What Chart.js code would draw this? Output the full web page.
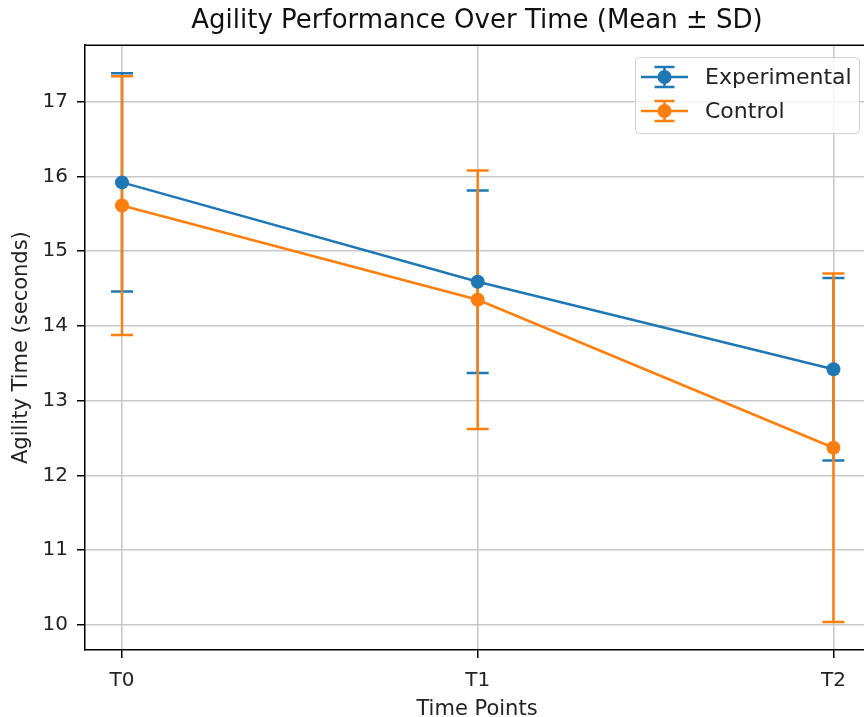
<!DOCTYPE html>
<html>
<head>
<meta charset="utf-8">
<script src="https://cdn.jsdelivr.net/npm/chart.js@4"></script>
<style>
  html, body { margin: 0; padding: 0; background: #fff; overflow: hidden; }
  #agilityChart { position: absolute; left: 0; top: 0; }
</style>
</head>
<body>
<canvas id="agilityChart" width="876" height="717"></canvas>
<script>
// Data
const timePoints = ["T0", "T1", "T2"];
const expMean = [15.92, 14.59, 13.42];
const expSD = [1.46, 1.22, 1.22];
const ctrlMean = [15.61, 14.35, 12.37];
const ctrlSD = [1.73, 1.73, 2.33];
const yTicks = [10, 11, 12, 13, 14, 15, 16, 17];

const BLUE = "#1f77b4";
const ORANGE = "#ff7f0e";
const FONT = "'DejaVu Sans', sans-serif";

const toPoints = (means) => means.map((v, i) => ({ x: i, y: v }));

// error bars, drawn through the chart scales
const errorBars = {
  id: "errorBars",
  beforeDatasetsDraw(chart) {
    const { ctx, scales: { x, y } } = chart;
    ctx.save();
    ctx.lineWidth = 2.5;
    chart.data.datasets.forEach((ds) => {
      ctx.strokeStyle = ds.borderColor;
      ds.sd.forEach((sd, i) => {
        const px = x.getPixelForValue(i);
        const top = y.getPixelForValue(ds.data[i].y + sd);
        const bot = y.getPixelForValue(ds.data[i].y - sd);
        ctx.beginPath();
        ctx.moveTo(px, top);
        ctx.lineTo(px, bot);
        ctx.moveTo(px - 11, top);
        ctx.lineTo(px + 11, top);
        ctx.moveTo(px - 11, bot);
        ctx.lineTo(px + 11, bot);
        ctx.stroke();
      });
    });
    ctx.restore();
  },
  afterDraw(chart) {
    const { ctx, chartArea: a } = chart;
    ctx.save();
    // top and right spines
    ctx.strokeStyle = "#000";
    ctx.lineWidth = 1.5;
    ctx.beginPath();
    ctx.moveTo(a.left, a.top);
    ctx.lineTo(a.right, a.top);
    ctx.lineTo(a.right, a.bottom);
    ctx.stroke();

    // legend
    const bx = 635, by = 57, bw = 224, bh = 76;
    ctx.fillStyle = "rgba(255,255,255,0.8)";
    ctx.strokeStyle = "#d0d0d0";
    ctx.lineWidth = 1;
    ctx.beginPath();
    ctx.roundRect(bx + 0.5, by + 0.5, bw, bh, 4);
    ctx.fill();
    ctx.stroke();
    ctx.font = "22px " + FONT;
    ctx.textBaseline = "middle";
    chart.data.datasets.forEach((ds, i) => {
      const cy = by + 20 + i * 34;
      const hx0 = bx + 6, hx1 = bx + 53, hc = (hx0 + hx1) / 2;
      ctx.strokeStyle = ds.borderColor;
      ctx.lineWidth = 2.5;
      ctx.beginPath();
      ctx.moveTo(hx0, cy);
      ctx.lineTo(hx1, cy);
      ctx.moveTo(hc, cy - 10);
      ctx.lineTo(hc, cy + 10);
      ctx.moveTo(hc - 10, cy - 10);
      ctx.lineTo(hc + 10, cy - 10);
      ctx.moveTo(hc - 10, cy + 10);
      ctx.lineTo(hc + 10, cy + 10);
      ctx.stroke();
      ctx.fillStyle = ds.borderColor;
      ctx.beginPath();
      ctx.arc(hc, cy, 7, 0, Math.PI * 2);
      ctx.fill();
      ctx.fillStyle = "#222";
      ctx.fillText(ds.label, bx + 70, cy + 1);
    });
    ctx.restore();
  },
};

new Chart(document.getElementById("agilityChart"), {
  type: "line",
  data: {
    datasets: [
      {
        label: "Experimental",
        data: toPoints(expMean),
        sd: expSD,
        borderColor: BLUE,
        backgroundColor: BLUE,
        borderWidth: 2.5,
        pointRadius: 7,
        pointBorderWidth: 0,
        pointHoverRadius: 7,
      },
      {
        label: "Control",
        data: toPoints(ctrlMean),
        sd: ctrlSD,
        borderColor: ORANGE,
        backgroundColor: ORANGE,
        borderWidth: 2.5,
        pointRadius: 7,
        pointBorderWidth: 0,
        pointHoverRadius: 7,
      },
    ],
  },
  options: {
    responsive: false,
    animation: false,
    layout: { padding: 0 },
    plugins: {
      legend: { display: false },
      tooltip: { enabled: false },
      title: {
        display: true,
        fullSize: false,
        text: "Agility Performance Over Time (Mean ± SD)",
        color: "#111",
        font: { family: FONT, size: 26, weight: "normal", lineHeight: 1.2 },
        padding: { top: 6, bottom: 8 },
      },
    },
    scales: {
      x: {
        type: "linear",
        min: -0.104,
        max: 2.1,
        afterBuildTicks: (scale) => {
          scale.ticks = timePoints.map((t, i) => ({ value: i }));
        },
        afterFit: (scale) => { scale.height = 67; },
        ticks: {
          color: "#222",
          font: { family: FONT, size: 20 },
          padding: 11,
          callback: (v) => timePoints[v],
        },
        grid: { color: "#c8c8c8", lineWidth: 1.5, tickLength: 8, tickColor: "#000" },
        border: { color: "#000", width: 1.5 },
        title: {
          display: true,
          text: "Time Points",
          color: "#222",
          font: { family: FONT, size: 21, lineHeight: 0.75 },
          padding: { top: 0, bottom: 0 },
        },
      },
      y: {
        min: 9.665,
        max: 17.755,
        afterBuildTicks: (scale) => {
          scale.ticks = yTicks.map((v) => ({ value: v }));
        },
        afterFit: (scale) => { scale.width = 85; },
        ticks: {
          color: "#222",
          font: { family: FONT, size: 20 },
          padding: 9,
        },
        grid: { color: "#c8c8c8", lineWidth: 1.5, tickLength: 8, tickColor: "#000" },
        border: { color: "#000", width: 1.5 },
        title: {
          display: true,
          text: "Agility Time (seconds)",
          color: "#222",
          font: { family: FONT, size: 21, lineHeight: 1 },
          padding: { top: 11, bottom: 0 },
        },
      },
    },
  },
  plugins: [errorBars],
});
</script>
</body>
</html>
